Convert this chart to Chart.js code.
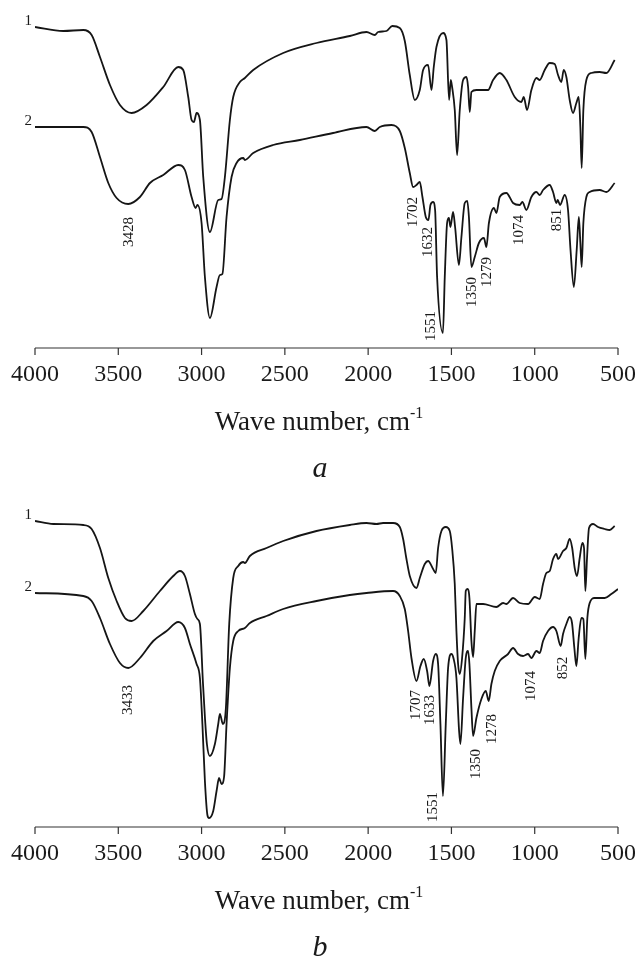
<!DOCTYPE html>
<html>
<head>
<meta charset="utf-8">
<script src="https://cdn.jsdelivr.net/npm/chart.js@4.4.0/dist/chart.umd.min.js"></script>
<style>
  html, body { margin: 0; padding: 0; background: #fff; overflow: hidden; }
  .panel { position: absolute; left: 0; width: 635px; height: 480px; }
  #panelA { top: 0; }
  #panelB { top: 479px; }
</style>
</head>
<body>
<div class="panel" id="panelA"><canvas id="chartA" width="635" height="480"></canvas></div>
<div class="panel" id="panelB"><canvas id="chartB" width="635" height="480"></canvas></div>
<script>
// wave numbers (cm-1) and relative transmittance (arb. units, offset curves)
const tickValues = [4000, 3500, 3000, 2500, 2000, 1500, 1000, 500];

// panel a, curve 1
const aWave1 = [4000,3830,3710,3660,3610,3550,3490,3420,3330,3230,3140,3110,3080,3060,3046,3030,3010,2990,2950,2900,2880,2860,2830,2810,2770,2740,2690,2510,2310,2110,2010,1960,1940,1890,1855,1810,1780,1750,1720,1690,1670,1640,1620,1606,1590,1550,1530,1514,1504,1496,1480,1466,1450,1430,1410,1400,1390,1380,1350,1280,1250,1210,1170,1120,1080,1066,1046,1020,990,970,940,910,880,860,840,826,810,790,770,750,736,726,718,708,690,660,610,570,520];
const aT1 = [321,317,318,313,291,263,243,235,243,261,281,278,251,228,226,235,228,171,116,148,149,171,228,251,266,270,278,295,305,312,316,313,316,317,322,320,307,273,248,258,278,283,258,281,301,315,308,248,268,261,238,193,238,268,271,261,236,256,258,258,268,275,268,251,246,251,238,258,270,268,278,285,284,273,266,278,271,248,235,245,251,221,180,238,268,275,276,275,288];

// panel a, curve 2
const aWave2 = [4000,3850,3710,3660,3610,3560,3510,3440,3370,3310,3230,3140,3100,3060,3036,3025,3000,2980,2950,2910,2890,2875,2850,2820,2790,2750,2740,2690,2570,2410,2210,2010,1960,1930,1860,1810,1780,1750,1730,1710,1690,1674,1654,1638,1626,1610,1598,1586,1551,1540,1526,1515,1506,1490,1478,1455,1440,1420,1405,1395,1380,1360,1335,1305,1290,1275,1245,1230,1210,1170,1130,1090,1074,1050,1020,990,970,950,910,890,870,862,848,820,800,785,765,748,735,726,718,708,690,670,610,570,520];
const aT2 = [221,221,221,216,191,165,150,144,151,165,173,183,178,151,140,143,125,71,30,61,73,74,131,171,185,190,188,195,203,208,215,221,217,221,223,217,200,175,161,163,166,151,131,128,143,146,138,71,15,71,125,130,121,136,121,83,111,145,147,131,81,91,105,110,101,125,140,135,151,155,145,143,146,138,151,156,153,158,163,156,145,148,143,153,138,98,61,98,131,105,81,125,151,156,158,156,165];

// panel b, curve 1
const bWave1 = [4000,3890,3710,3660,3610,3560,3510,3460,3420,3350,3250,3170,3130,3100,3070,3040,3025,3010,2992,2980,2968,2950,2920,2900,2890,2872,2854,2834,2810,2780,2750,2740,2710,2610,2510,2310,2110,2010,1950,1910,1850,1810,1790,1770,1750,1710,1690,1660,1640,1610,1594,1580,1560,1534,1510,1496,1480,1470,1460,1450,1436,1420,1414,1404,1392,1380,1370,1360,1350,1310,1230,1190,1170,1130,1090,1040,1000,970,950,930,910,890,870,860,830,810,790,775,760,746,730,714,704,696,686,674,650,620,580,550,520];
const bT1 = [306,303,302,298,279,249,226,209,206,216,236,251,256,251,233,213,208,203,145,110,83,71,83,103,113,103,119,203,249,261,265,264,271,279,286,296,302,304,303,304,304,300,288,268,251,239,249,263,266,258,254,279,296,300,296,279,243,196,163,153,169,209,236,238,229,186,170,196,223,223,220,224,223,229,224,223,230,228,243,254,256,268,273,268,276,279,288,279,259,251,269,284,279,236,269,299,303,300,298,297,301];

// panel b, curve 2
const bWave2 = [4000,3710,3660,3610,3550,3490,3440,3370,3290,3210,3140,3100,3070,3030,3010,2995,2980,2965,2955,2930,2910,2895,2880,2865,2850,2830,2810,2780,2740,2710,2610,2510,2310,2110,2010,1850,1810,1780,1760,1740,1710,1686,1666,1646,1632,1610,1594,1580,1566,1551,1534,1520,1500,1488,1470,1454,1446,1430,1414,1400,1392,1380,1370,1350,1320,1294,1276,1260,1240,1210,1160,1130,1100,1070,1040,1020,990,970,950,920,890,870,844,830,810,790,776,762,750,736,720,708,696,684,670,640,580,540,500];
const bT2 = [234,231,226,209,183,164,159,169,186,196,205,199,183,163,149,103,46,12,9,16,36,49,43,50,103,159,186,196,199,204,211,218,226,232,234,236,231,218,196,169,146,161,168,156,141,166,173,163,103,31,103,159,173,169,149,96,83,129,169,176,163,119,91,109,128,136,126,143,156,166,173,179,173,171,173,169,176,174,186,196,200,196,181,193,203,210,204,179,161,189,209,208,168,209,224,229,229,233,238];

// band labels: text, anchor wave number, anchor level
const aPeakText = ['3428', '1702', '1632', '1551', '1350', '1279', '1074', '851'];
const aPeakWave = [3436, 1732, 1642, 1624, 1378, 1288, 1096, 868];
const aPeakLevel = [116, 136, 106, 22, 56, 76, 118, 128];

const bPeakText = ['3433', '1707', '1633', '1551', '1350', '1278', '1074', '852'];
const bPeakWave = [3442, 1714, 1630, 1612, 1354, 1258, 1024, 832];
const bPeakLevel = [127, 122, 117, 20, 63, 98, 141, 159];

const serif = '"Liberation Serif", "Times New Roman", serif';

function toPoints(waves, values) {
  return waves.map((w, i) => ({ x: w, y: values[i] }));
}

const irAxis = {
  id: 'irAxis',
  afterDraw(chart, args, opts) {
    const ctx = chart.ctx;
    const xs = chart.scales.x;
    const ys = chart.scales.y;
    const bottom = chart.chartArea.bottom;
    ctx.save();

    // axis line and ticks
    ctx.strokeStyle = '#333';
    ctx.lineWidth = 1.2;
    ctx.beginPath();
    ctx.moveTo(xs.getPixelForValue(tickValues[0]), bottom);
    ctx.lineTo(xs.getPixelForValue(tickValues[tickValues.length - 1]), bottom);
    tickValues.forEach((v) => {
      const px = xs.getPixelForValue(v);
      ctx.moveTo(px, bottom);
      ctx.lineTo(px, bottom + 7);
    });
    ctx.stroke();

    ctx.fillStyle = '#1a1a1a';
    ctx.font = '24px ' + serif;
    ctx.textAlign = 'center';
    ctx.textBaseline = 'middle';
    tickValues.forEach((v) => ctx.fillText(String(v), xs.getPixelForValue(v), bottom + 27));

    // axis title with superscript
    const main = 'Wave number, cm';
    const sup = '-1';
    ctx.font = '27px ' + serif;
    const wMain = ctx.measureText(main).width;
    ctx.font = '16px ' + serif;
    const wSup = ctx.measureText(sup).width;
    const left = 319 - (wMain + wSup) / 2;
    ctx.textAlign = 'left';
    ctx.textBaseline = 'alphabetic';
    ctx.font = '27px ' + serif;
    ctx.fillText(main, left, bottom + 82);
    ctx.font = '16px ' + serif;
    ctx.fillText(sup, left + wMain, bottom + 70);

    // panel letter
    ctx.font = 'italic 30px ' + serif;
    ctx.textAlign = 'center';
    ctx.fillText(opts.letter, 320, bottom + 129);

    // curve numbers
    ctx.font = '15px ' + serif;
    chart.data.datasets.forEach((ds, i) => {
      const p = ds.data[0];
      ctx.textAlign = 'right';
      ctx.fillText(String(i + 1), xs.getPixelForValue(p.x) - 3, ys.getPixelForValue(p.y) - 2);
    });

    // band labels, rotated
    ctx.font = '15px ' + serif;
    ctx.textAlign = 'center';
    ctx.textBaseline = 'middle';
    opts.text.forEach((t, i) => {
      ctx.save();
      ctx.translate(xs.getPixelForValue(opts.wave[i]), ys.getPixelForValue(opts.level[i]));
      ctx.rotate(-Math.PI / 2);
      ctx.fillText(t, 0, 0);
      ctx.restore();
    });
    ctx.restore();
  }
};

function makeChart(id, curves, letter, text, wave, level) {
  const ctx = document.getElementById(id).getContext('2d');
  return new Chart(ctx, {
    type: 'line',
    data: {
      datasets: curves.map((c) => ({
        data: toPoints(c[0], c[1]),
        borderColor: '#151515',
        borderWidth: 1.8,
        pointRadius: 0,
        fill: false,
        cubicInterpolationMode: 'monotone'
      }))
    },
    options: {
      responsive: false,
      animation: false,
      devicePixelRatio: 1,
      layout: { padding: { left: 35, right: 17, top: 10, bottom: 132 } },
      scales: {
        x: { type: 'linear', min: 500, max: 4000, reverse: true, display: false },
        y: { type: 'linear', min: 0, max: 338, display: false }
      },
      plugins: {
        legend: { display: false },
        tooltip: { enabled: false },
        irAxis: { letter: letter, text: text, wave: wave, level: level }
      }
    },
    plugins: [irAxis]
  });
}

makeChart('chartA', [[aWave1, aT1], [aWave2, aT2]], 'a', aPeakText, aPeakWave, aPeakLevel);
makeChart('chartB', [[bWave1, bT1], [bWave2, bT2]], 'b', bPeakText, bPeakWave, bPeakLevel);
</script>
</body>
</html>
